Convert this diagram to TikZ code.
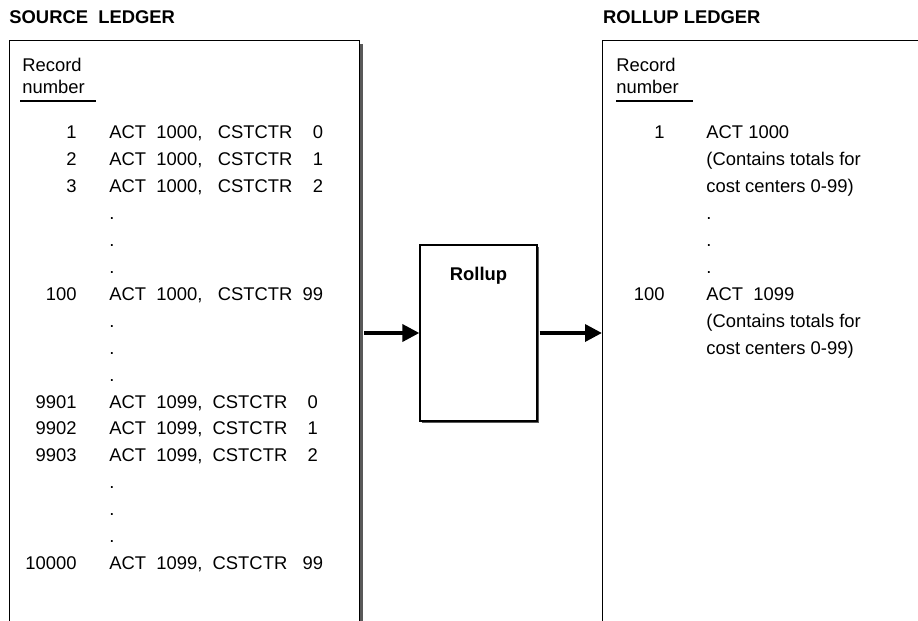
\documentclass[tikz,border=0pt]{standalone}
\usepackage{fontspec}
\setmainfont{Liberation Sans}
\usetikzlibrary{arrows.meta,positioning,shadows,calc}

\begin{document}
\begin{tikzpicture}[
  x=0.5pt,y=-0.5pt,
  txt/.style={inner sep=0pt,anchor=base west,font=\fontsize{9.2}{11}\selectfont},
  num/.style={inner sep=0pt,anchor=base east,font=\fontsize{9.2}{11}\selectfont},
  hdr/.style={inner sep=0pt,anchor=base west,font=\fontsize{9.2}{11}\selectfont\bfseries},
  ledger/.style={draw,line width=0.6pt,fill=white,inner sep=0pt,anchor=north west,minimum height=300pt},
  shad/.style={drop shadow={shadow xshift=1.5pt,shadow yshift=-1.5pt,fill=black!65,opacity=1}},
  thinshad/.style={drop shadow={shadow xshift=1pt,shadow yshift=-1pt,fill=black!65,opacity=1}},
  arr/.style={-{Triangle[length=8.5pt,width=8.4pt]},line width=2pt}
]
\useasboundingbox (0,0) rectangle (918,621);
\clip (0,0) rectangle (918,621);

% ledgers
\node[ledger,shad,minimum width=175pt] (src) at (9,40) {};
\node[ledger,minimum width=200pt] (dst) at (602,40) {};
\node[hdr] (srchdr) at (9,23.3) {SOURCE~~LEDGER};
\node[hdr] (dsthdr) at (602.7,23.3) {ROLLUP LEDGER};

% column heads
\node[txt] (srcrec) at (22,71) {Record};
\node[txt] (srcno) at (22,93.3) {number};
\draw[line width=0.6pt] (20,101) -- (96,101);
\node[txt] (dstrec) at (616,71) {Record};
\node[txt] (dstno) at (616,93.3) {number};
\draw[line width=0.6pt] (616,101) -- (693,101);

% source records
\foreach \n/\t [count=\i from 0] in {
  1/{ACT~~1000,~~~CSTCTR~~~~0}, 2/{ACT~~1000,~~~CSTCTR~~~~1}, 3/{ACT~~1000,~~~CSTCTR~~~~2},
  /., /., /.,
  100/{ACT~~1000,~~~CSTCTR~~99},
  /., /., /.,
  9901/{ACT~~1099,~~CSTCTR~~~~0}, 9902/{ACT~~1099,~~CSTCTR~~~~1}, 9903/{ACT~~1099,~~CSTCTR~~~~2},
  /., /., /.,
  10000/{ACT~~1099,~~CSTCTR~~~99}} {
  \node[num] (srcnum\i) at (77,{139+26.9*\i}) {\n};
  \node[txt] (srctxt\i) at (109,{139+26.9*\i}) {\t};
}

% rollup records
\foreach \n/\t [count=\i from 0] in {
  1/{ACT~1000}, /{(Contains totals for}, /{cost centers 0-99)},
  /., /., /.,
  100/{ACT~~1099}, /{(Contains totals for}, /{cost centers 0-99)}} {
  \node[num] (dstnum\i) at (665,{139+26.9*\i}) {\n};
  \node[txt] (dsttxt\i) at (706,{139+26.9*\i}) {\t};
}

% rollup step
\node[draw,line width=0.6pt,fill=white,thinshad,inner sep=0pt,minimum width=58.5pt,minimum height=88pt] (rollup) at (478.5,333) {};
\node[hdr,anchor=base] (rolluplbl) at ($(rollup.north)+(0,36.4)$) {Rollup};

\draw[arr,shorten <=2pt] (src.east |- rollup.west) -- (rollup.west);
\draw[arr,shorten <=1pt] (rollup.east) -- (dst.west |- rollup.east);
\end{tikzpicture}
\end{document}
